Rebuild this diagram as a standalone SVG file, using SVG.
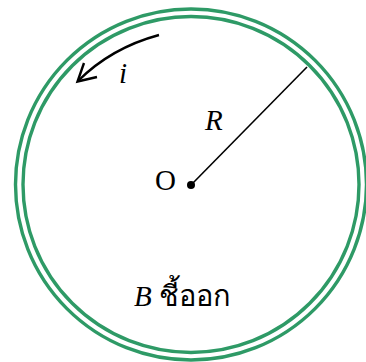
<svg xmlns="http://www.w3.org/2000/svg" width="366" height="362" viewBox="0 0 366 362">
<style>
.ring{fill:none;stroke:#2e9a66;stroke-width:3.4}
.ln{fill:none;stroke:#000;stroke-width:2.4}
.t{font-family:"Liberation Serif","Noto Serif",serif;font-size:29px;fill:#000}
.it{font-style:italic}
</style>
<rect width="366" height="362" fill="#fff"/>
<g id="loop">
<circle class="ring" cx="191" cy="184.5" r="175.5"/>
<circle class="ring" cx="191" cy="184.5" r="168"/>
</g>
<g id="connectors">
<line x1="191" y1="185" x2="307" y2="67" stroke="#000" stroke-width="1.6"/>
<path class="ln" d="M159,35 Q111,48 78,81"/>
<polyline class="ln" points="84,63 77.5,81.5 97,77" stroke-linejoin="miter"/>
</g>
<g id="center">
<circle cx="191" cy="185" r="4" fill="#000"/>
<text class="t" x="155" y="190">O</text>
</g>
<g id="labels">
<text class="t it" x="119" y="83">i</text>
<text class="t it" x="205" y="130">R</text>
<text class="t" x="134" y="306"><tspan class="it">B</tspan> ชี้ออก</text>
</g>
</svg>
